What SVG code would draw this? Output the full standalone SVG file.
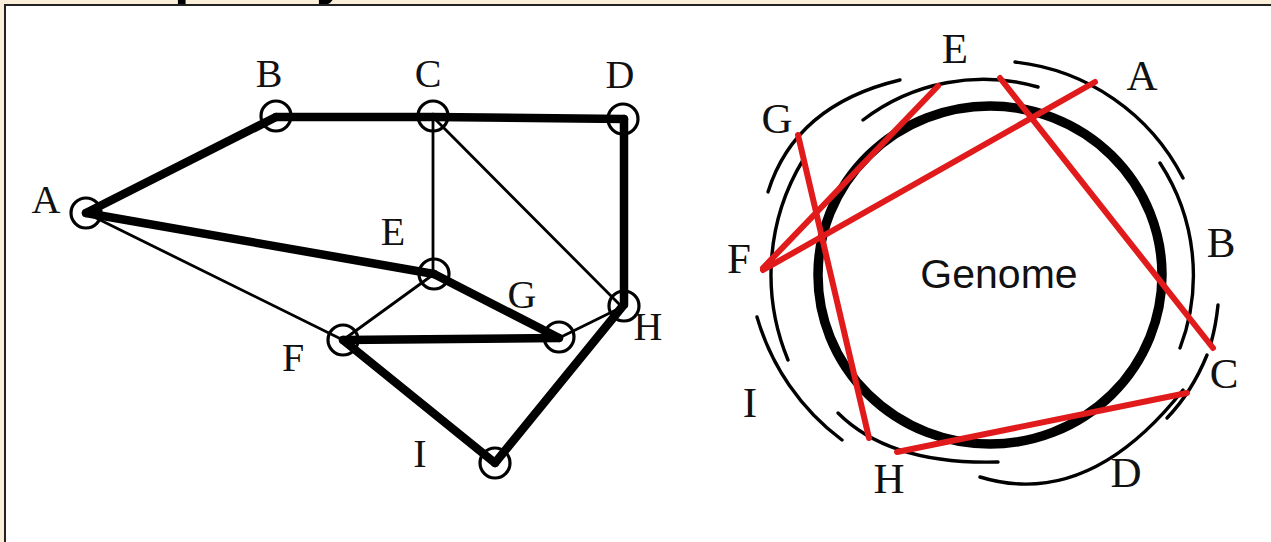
<svg xmlns="http://www.w3.org/2000/svg" width="1271" height="542" viewBox="0 0 1271 542">
<style>
.lbl{font-family:"Liberation Serif","Times New Roman",serif;font-size:40px;fill:#111;text-anchor:middle}
.rl{font-size:43px}
.thick{stroke:#000;stroke-width:8.5;stroke-linecap:round;fill:none}
.thin{stroke:#000;stroke-width:2.8;stroke-linecap:round;fill:none}
.node{stroke:#000;stroke-width:3.2;fill:none}
.arc{stroke:#000;stroke-width:3.4;fill:none;stroke-linecap:round}
.red{stroke:#e11b1b;stroke-width:6;stroke-linecap:round;fill:none}
.title{font-family:"Liberation Sans",Arial,sans-serif;font-weight:bold;font-size:56px;fill:#000}
</style>
<rect x="0" y="0" width="1271" height="542" fill="#fcefd9"/>
<text class="title" x="174" y="-7">p</text>
<text class="title" x="316" y="-7">y</text>
<rect x="5" y="5" width="1290" height="560" fill="#fff" stroke="#222" stroke-width="2"/>

<g id="left-edges">
<line class="thick" x1="86" y1="213" x2="276" y2="117"/>
<line class="thick" x1="276" y1="117" x2="433" y2="117"/>
<line class="thick" x1="433" y1="117" x2="624" y2="119"/>
<line class="thick" x1="624" y1="119" x2="624" y2="305"/>
<line class="thick" x1="86" y1="213" x2="434" y2="274"/>
<line class="thick" x1="434" y1="274" x2="559" y2="338"/>
<line class="thick" x1="343" y1="340" x2="559" y2="338"/>
<line class="thick" x1="343" y1="340" x2="495" y2="463"/>
<line class="thick" x1="495" y1="463" x2="622" y2="307"/>
<line class="thin" x1="86" y1="213" x2="343" y2="340"/>
<line class="thin" x1="433" y1="117" x2="433" y2="274"/>
<line class="thin" x1="433" y1="117" x2="622" y2="307"/>
<line class="thin" x1="434" y1="274" x2="343" y2="340"/>
<line class="thin" x1="559" y1="338" x2="622" y2="307"/>
</g>

<g id="node-A"><circle class="node" cx="86" cy="213" r="15"/><text class="lbl" x="46" y="213">A</text></g>
<g id="node-B"><circle class="node" cx="276" cy="116" r="15"/><text class="lbl" x="269" y="87">B</text></g>
<g id="node-C"><circle class="node" cx="433" cy="116" r="15"/><text class="lbl" x="428" y="87">C</text></g>
<g id="node-D"><circle class="node" cx="623" cy="119" r="15"/><text class="lbl" x="620" y="88">D</text></g>
<g id="node-E"><circle class="node" cx="434" cy="274" r="15"/><text class="lbl" x="393" y="245">E</text></g>
<g id="node-F"><circle class="node" cx="343" cy="340" r="15"/><text class="lbl" x="293" y="371">F</text></g>
<g id="node-G"><circle class="node" cx="559" cy="337" r="15"/><text class="lbl" x="522" y="308">G</text></g>
<g id="node-H"><circle class="node" cx="624" cy="306" r="15"/><text class="lbl" x="648" y="340">H</text></g>
<g id="node-I"><circle class="node" cx="495" cy="463" r="15"/><text class="lbl" x="420" y="467">I</text></g>

<g id="genome">
<ellipse cx="990" cy="275" rx="172" ry="169" fill="none" stroke="#000" stroke-width="9.5"/>
<text x="999" y="288" font-family="'Liberation Sans',Arial,sans-serif" font-size="41" text-anchor="middle" fill="#111">Genome</text>
</g>

<g id="reads">
<path class="arc" d="M1015,62 A215,215 0 0 1 1183,178"/>
<path class="arc" d="M1160,163 A205,205 0 0 1 1180,348"/>
<path class="arc" d="M863,120 A198,198 0 0 1 1038,87"/>
<path class="arc" d="M768,192 Q795,105 900,80"/>
<path class="arc" d="M803,160 A222,222 0 0 0 788,360"/>
<path class="arc" d="M757,317 A235,235 0 0 0 842,440"/>
<path class="arc" d="M838,413 Q890,465 998,462"/>
<path class="arc" d="M980,477 Q1088,510 1183,390"/>
<path class="arc" d="M1218,305 Q1216,325 1211,343"/>
<path class="arc" d="M1207,355 Q1192,392 1167,418"/>
</g>

<g id="overlaps">
<line class="red" x1="938" y1="86" x2="763" y2="268"/>
<line class="red" x1="1095" y1="82" x2="763" y2="270"/>
<line class="red" x1="1000" y1="78" x2="1213" y2="348"/>
<line class="red" x1="798" y1="135" x2="869" y2="438"/>
<line class="red" x1="897" y1="452" x2="1187" y2="393"/>
</g>

<g id="read-labels">
<text class="lbl rl" x="955" y="63">E</text>
<text class="lbl rl" x="1142" y="90">A</text>
<text class="lbl rl" x="1221" y="257">B</text>
<text class="lbl rl" x="1224" y="388">C</text>
<text class="lbl rl" x="1126" y="487">D</text>
<text class="lbl rl" x="889" y="493">H</text>
<text class="lbl rl" x="750" y="417">I</text>
<text class="lbl rl" x="739" y="273">F</text>
<text class="lbl rl" x="777" y="133">G</text>
</g>
</svg>
